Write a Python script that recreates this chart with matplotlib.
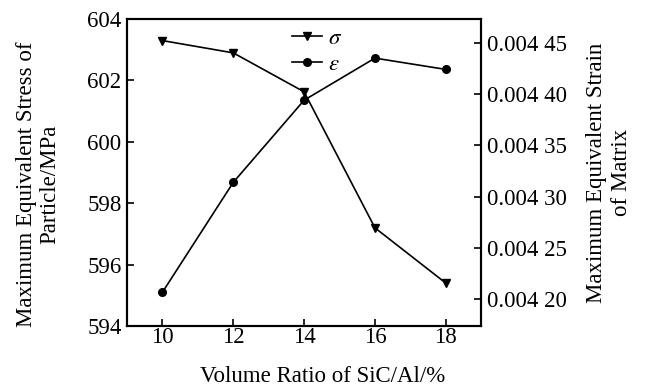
import matplotlib
matplotlib.use("Agg")
import matplotlib.pyplot as plt
from matplotlib.ticker import FuncFormatter

plt.rcParams['font.family'] = ['Liberation Serif', 'DejaVu Serif']
plt.rcParams['mathtext.fontset'] = 'stix'

ratio = [10, 12, 14, 16, 18]
stress = [603.3, 602.9, 601.63, 597.2, 595.4]
strain = [0.004207, 0.004314, 0.004394, 0.004435, 0.004424]

left_ticks = [594, 596, 598, 600, 602, 604]
right_ticks = [0.00420, 0.00425, 0.00430, 0.00435, 0.00440, 0.00445]

FS = 16.5


def strain_fmt(v, pos):
    s = '%.5f' % v
    return s[:5] + ' ' + s[5:]


fig = plt.figure(figsize=(6.45, 3.9), dpi=100)
ax = fig.add_axes([0.197, 0.164, 0.549, 0.787])
ax2 = ax.twinx()

l1, = ax.plot(ratio, stress, color='black', lw=1.2, marker='v', ms=5.5, label=r'$\sigma$')
l2, = ax2.plot(ratio, strain, color='black', lw=1.2, marker='o', ms=5.5, label=r'$\varepsilon$')

ax.set_xlim(9, 19)
ax.set_ylim(594, 604)
ax2.set_ylim(0.004174, 0.004473)
ax.set_xticks(ratio)
ax.set_yticks(left_ticks)
ax2.set_yticks(right_ticks)
ax2.yaxis.set_major_formatter(FuncFormatter(strain_fmt))

for a in (ax, ax2):
    a.tick_params(direction='in', length=5, width=1.2, labelsize=FS, pad=4)
    for sp in a.spines.values():
        sp.set_linewidth(1.5)
ax.tick_params(axis='x', pad=1)

ax.set_xlabel('Volume Ratio of SiC/Al/%', fontsize=FS, va='center')
ax.xaxis.set_label_coords(0.551, -0.163)
ax.set_ylabel('Maximum Equivalent Stress of\nParticle/MPa', fontsize=FS, va='center',
              linespacing=1.15)
ax.yaxis.set_label_coords(-0.251, 0.463)
ax2.set_ylabel('Maximum Equivalent Strain\nof Matrix', fontsize=FS, va='center',
               linespacing=1.2)
ax2.yaxis.set_label_coords(1.361, 0.5)

ax2.legend([l1, l2], [l1.get_label(), l2.get_label()], loc='upper left',
           bbox_to_anchor=(0.465, 0.97), frameon=False, fontsize=FS,
           borderpad=0, borderaxespad=0, labelspacing=0.2,
           handlelength=1.3, handletextpad=0.3)

fig.savefig('out.png', dpi=100)
